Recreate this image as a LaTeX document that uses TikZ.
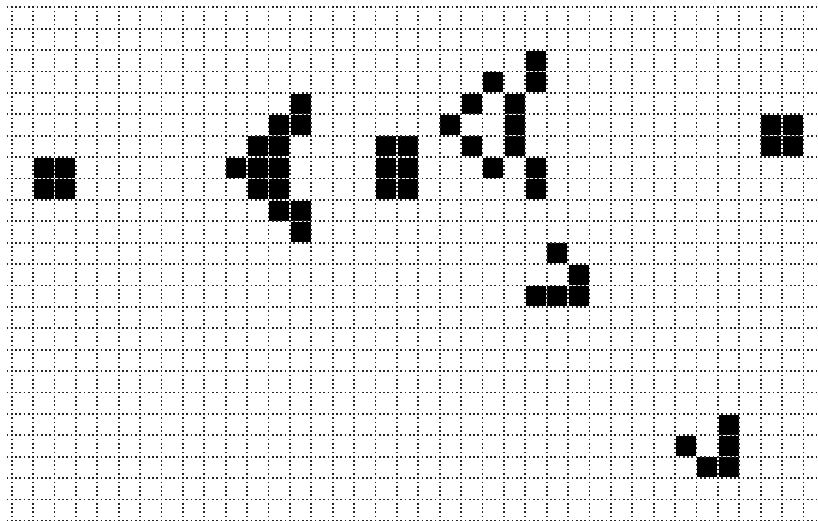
\documentclass[tikz,border=0pt]{standalone}
\begin{document}
\begin{tikzpicture}[x=1pt,y=-1pt,
  gridline/.style={line width=1.7pt,draw=black!85,dash pattern=on 1.7pt off 2.58pt},
  livecell/.style={fill=black}]
\useasboundingbox (0,0) rectangle (818,521);
\def\cs{21.4}
\def\gx{11.7}
\def\gy{7.3}
% live cells
\foreach \c/\r in {1/7,2/7,1/8,2/8,
  13/4,12/5,13/5,11/6,12/6,10/7,11/7,12/7,11/8,12/8,12/9,13/9,13/10,
  17/6,18/6,17/7,18/7,17/8,18/8,
  24/2,22/3,24/3,21/4,23/4,20/5,23/5,21/6,23/6,22/7,24/7,24/8,
  25/11,26/12,24/13,25/13,26/13,
  33/19,31/20,33/20,32/21,33/21,
  35/5,36/5,35/6,36/6}{
  \fill[livecell] ({\gx+\c*\cs+0.7},{\gy+\r*\cs+0.7}) rectangle ({\gx+(\c+1)*\cs-0.7},{\gy+(\r+1)*\cs-0.7});
}
% grid lines
\foreach \r in {0,...,24}{
  \draw[gridline] (6.57,{\gy+\r*\cs}) -- (818,{\gy+\r*\cs});
}
\foreach \c in {0,...,37}{
  \draw[gridline] ({\gx+\c*\cs},{\gy+4.28-0.85}) -- ({\gx+\c*\cs},521);
}
\end{tikzpicture}
\end{document}
